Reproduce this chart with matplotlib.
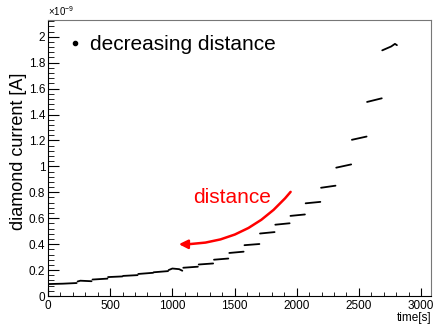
import matplotlib
matplotlib.use('Agg')
from matplotlib import pyplot as plt

plt.rcParams['font.family'] = ['Liberation Sans', 'DejaVu Sans']
plt.rcParams['mathtext.fontset'] = 'custom'
plt.rcParams['mathtext.rm'] = 'Liberation Sans'

# each plateau of the measured current: time [s] and current [1e-9 A]
step_times = [
    [0, 120, 230],
    [238, 260, 350],
    [358, 478],
    [483, 598],
    [604, 720],
    [726, 845],
    [850, 965],
    [970, 1000, 1055, 1080],
    [1088, 1205],
    [1212, 1328],
    [1335, 1450],
    [1458, 1573],
    [1580, 1700],
    [1705, 1822],
    [1828, 1943],
    [1950, 2066],
    [2072, 2190],
    [2196, 2312],
    [2318, 2438],
    [2444, 2562],
    [2566, 2684],
    [2688, 2760, 2790, 2806],
]
step_currents = [
    [0.092, 0.095, 0.100],
    [0.112, 0.118, 0.114],
    [0.127, 0.134],
    [0.146, 0.151],
    [0.155, 0.161],
    [0.170, 0.179],
    [0.183, 0.192],
    [0.200, 0.212, 0.207, 0.195],
    [0.218, 0.226],
    [0.243, 0.251],
    [0.280, 0.289],
    [0.332, 0.342],
    [0.392, 0.401],
    [0.482, 0.493],
    [0.550, 0.561],
    [0.618, 0.629],
    [0.715, 0.726],
    [0.835, 0.851],
    [0.990, 1.015],
    [1.205, 1.230],
    [1.497, 1.525],
    [1.895, 1.925, 1.945, 1.935],
]

fig = plt.figure(figsize=(4.38, 3.27), dpi=100)
ax = fig.add_axes([0.1096, 0.0948, 0.8744, 0.844])

for t, c in zip(step_times, step_currents):
    ax.plot(t, c, color='black', lw=1.3, solid_capstyle='round')

ax.set_xlim(0, 3080)
ax.set_ylim(0, 2.129)
ax.set_xticks([0, 500, 1000, 1500, 2000, 2500, 3000])
ax.set_xticks(range(0, 3080, 100), minor=True)
ax.set_yticks([0, 0.2, 0.4, 0.6, 0.8, 1, 1.2, 1.4, 1.6, 1.8, 2])
ax.set_yticklabels(['0', '0.2', '0.4', '0.6', '0.8', '1', '1.2', '1.4',
                    '1.6', '1.8', '2'])
ax.set_yticks([i * 0.04 for i in range(54)], minor=True)
ax.tick_params(axis='both', which='both', direction='in', labelsize=8.5,
               top=False, right=False)
ax.tick_params(axis='y', which='major', length=8, pad=2)
ax.tick_params(axis='y', which='minor', length=4.3)
ax.tick_params(axis='x', which='major', length=6, pad=3)
ax.tick_params(axis='x', which='minor', length=3)
for s in ['top', 'right']:
    ax.spines[s].set_color('#777777')
    ax.spines[s].set_linewidth(0.8)

ax.text(0.0, 1.008, r'$\times10^{-9}$', transform=ax.transAxes,
        fontsize=7, ha='left', va='bottom')
ax.text(1.0, -0.078, 'time[s]', transform=ax.transAxes, fontsize=8.5,
        ha='right', va='center')
ax.text(-0.078, 0.525, 'diamond current [A]', transform=ax.transAxes,
        fontsize=13, rotation=90, ha='center', va='center')

ax.plot([], [], 'k.', markersize=6, label='decreasing distance')
ax.legend(loc='center left', bbox_to_anchor=(0.05, 0.91), frameon=False,
          fontsize=15, handlelength=0.8, handletextpad=0.3, borderpad=0,
          borderaxespad=0)

ax.annotate('', xy=(1030, 0.40), xytext=(1965, 0.82),
            arrowprops=dict(arrowstyle='-|>', color='red', lw=1.8,
                            mutation_scale=13,
                            connectionstyle='arc3,rad=-0.25'))
ax.text(1166, 0.72, 'distance', color='red', fontsize=15,
        ha='left', va='baseline')

plt.savefig('out.png')
